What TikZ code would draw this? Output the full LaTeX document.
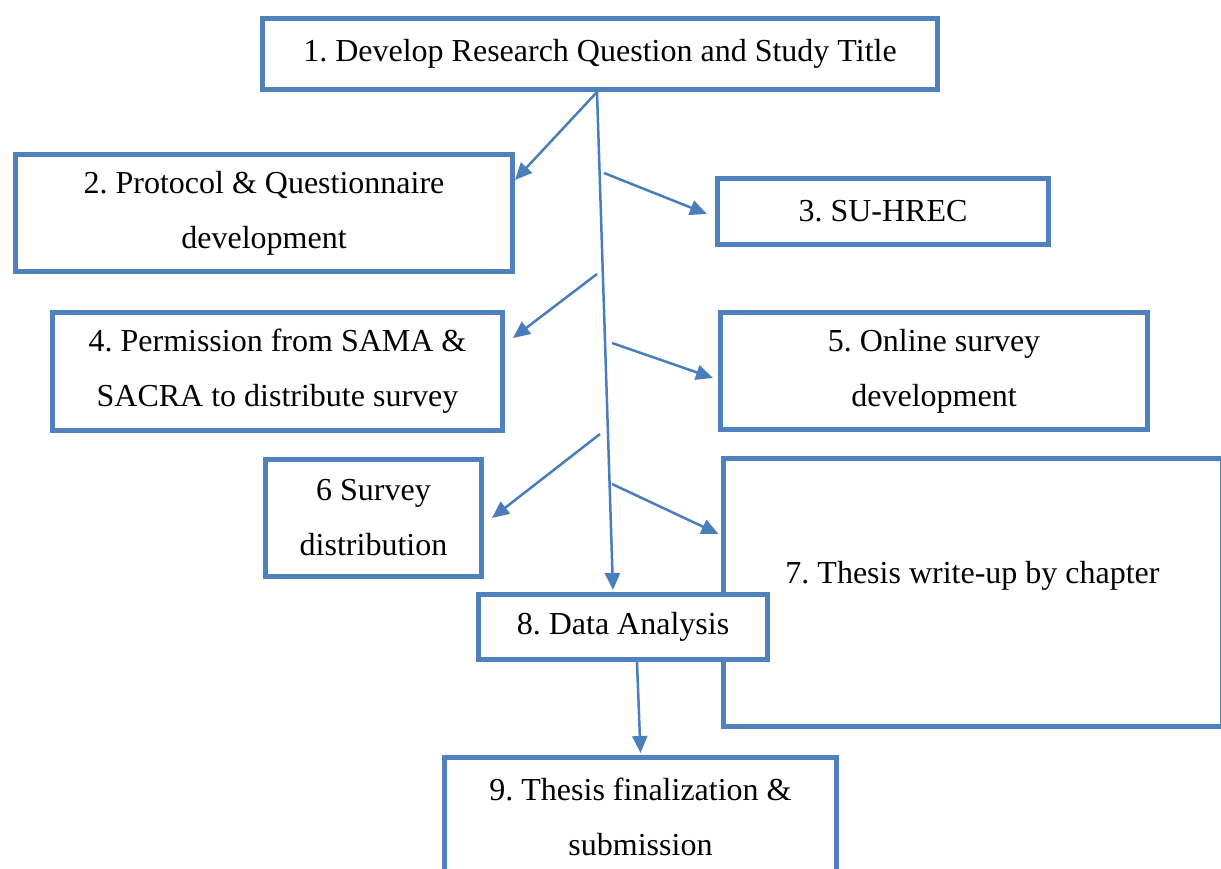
\documentclass[tikz,border=0pt]{standalone}
\usepackage{fontspec}
\setmainfont{Liberation Serif}
\usetikzlibrary{arrows.meta}
\definecolor{boxblue}{RGB}{79,129,189}
\definecolor{arrowblue}{RGB}{74,126,187}
\tikzset{
  stage/.style={draw=boxblue, line width=5pt, fill=white, rectangle,
    inner sep=0pt, align=center, text=black,
    font=\fontsize{32}{55}\selectfont\frenchspacing},
  flow/.style={draw=arrowblue, line width=2.5pt,
    -{Triangle[length=17pt,width=15pt]}},
}
\begin{document}
\begin{tikzpicture}[x=1pt,y=-1pt]
\clip (0,0) rectangle (1221,869);
\fill[white] (0,0) rectangle (1221,869);

% process stages
\node[stage, minimum width=675pt, minimum height=71pt] (b1) at (600,54)
  {1. Develop Research Question and Study Title};
\node[stage, minimum width=497pt, minimum height=117pt] (b2) at (264,213)
  {2. Protocol \& Questionnaire\\development};
\node[stage, minimum width=331pt, minimum height=66pt] (b3) at (883,211.5)
  {3. SU-HREC};
\node[stage, minimum width=450pt, minimum height=118pt] (b4) at (277.5,371.5)
  {4. Permission from SAMA \&\\SACRA to distribute survey};
\node[stage, minimum width=427pt, minimum height=117pt] (b5) at (934,371)
  {5. Online survey\\development};
\node[stage, minimum width=216pt, minimum height=117pt] (b6) at (373.5,518)
  {6 Survey\\distribution};
\node[stage, minimum width=499pt, minimum height=268pt,
      text height=22pt, text depth=41pt] (b7) at (972.5,592.5)
  {7. Thesis write-up by chapter};
\node[stage, minimum width=289pt, minimum height=65pt] (b8) at (623,627)
  {8. Data Analysis};
\node[stage, minimum width=392pt, minimum height=118pt] (b9) at (640.5,816.5)
  {9. Thesis finalization \&\\submission};

% branch points along the main line
\coordinate (s3) at (604,173);
\coordinate (s4) at (597,274);
\coordinate (s5) at (612,343);
\coordinate (s6) at (600,434);
\coordinate (s7) at (612,484);

% connectors
\draw[flow] ([xshift=-3pt]b1.south) -- ([xshift=-10pt,yshift=2pt]b8.north);
\draw[flow] ([xshift=-3pt]b1.south) -- ([yshift=33pt]b2.east);
\draw[flow] (s3) -- ([xshift=-8pt,yshift=-2.5pt]b3.west);
\draw[flow] (s4) -- ([xshift=8pt,yshift=33.5pt]b4.east);
\draw[flow] (s5) -- ([xshift=-5pt,yshift=-7pt]b5.west);
\draw[flow] (s6) -- ([xshift=8pt]b6.east);
\draw[flow] (s7) -- ([xshift=-2pt,yshift=58.5pt]b7.west);
\draw[flow] ([xshift=14pt]b8.south) -- ([yshift=2pt]b9.north);
\end{tikzpicture}
\end{document}
